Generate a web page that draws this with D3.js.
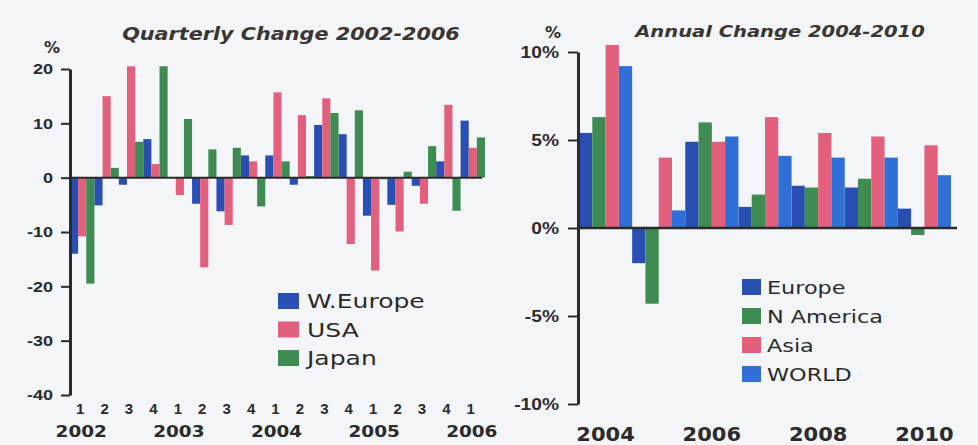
<!DOCTYPE html>
<html>
<head>
<meta charset="utf-8">
<script src="https://cdn.jsdelivr.net/npm/d3@7"></script>
<style>
    body { margin: 0; background: #f4f5f9; }
    svg { display: block; font-family: "DejaVu Sans", sans-serif; }
</style>
</head>
<body>
<div id="vis"></div>
<script>
// Constants
const FRAME_WIDTH = 978;
const FRAME_HEIGHT = 445;

// quarterly chart data (2002 Q1 - 2006 Q1)
const QUARTERS = ["1", "2", "3", "4", "1", "2", "3", "4", "1", "2", "3", "4", "1", "2", "3", "4", "1"];
const QUARTER_YEARS = ["2002", "2003", "2004", "2005", "2006"];
const Q_SERIES = ["W.Europe", "USA", "Japan"];
const W_EUROPE = [-14.0, -5.1, -1.3, 7.1, 0, -4.8, -6.2, 4.1, 4.1, -1.3, 9.7, 8.0, -7.0, -5.0, -1.5, 3.0, 10.5];
const USA = [-10.8, 15.0, 20.5, 2.5, -3.2, -16.5, -8.7, 3.0, 15.7, 11.5, 14.6, -12.2, -17.1, -9.9, -4.8, 13.4, 5.5];
const JAPAN = [-19.5, 1.8, 6.6, 20.5, 10.8, 5.2, 5.5, -5.3, 3.0, 0.3, 11.9, 12.4, -0.3, 1.1, 5.8, -6.1, 7.4];
const Q_TICKS = [20, 10, 0, -10, -20, -30, -40];

// annual chart data (2004 - 2010)
const YEARS = ["2004", "2005", "2006", "2007", "2008", "2009", "2010"];
const YEAR_LABELS = ["2004", "2006", "2008", "2010"];
const A_SERIES = ["Europe", "N America", "Asia", "WORLD"];
const EUROPE = [5.4, -2.0, 4.9, 1.2, 2.4, 2.3, 1.1];
const N_AMERICA = [6.3, -4.3, 6.0, 1.9, 2.3, 2.8, -0.4];
const ASIA = [10.4, 4.0, 4.9, 6.3, 5.4, 5.2, 4.7];
const WORLD = [9.2, 1.0, 5.2, 4.1, 4.0, 4.0, 3.0];
const A_TICKS = [10, 5, 0, -5, -10];

const BLUE = "#2a4fb3";
const PINK = "#e2607c";
const GREEN = "#3f8c52";
const LIGHT_BLUE = "#2f6fd6";
const INK = "#2b2b2b";

const FRAME = d3.select("#vis")
    .append("svg")
    .attr("width", FRAME_WIDTH)
    .attr("height", FRAME_HEIGHT);

// the scanned text is wider than the fonts we have, so stretch it a bit
function widen(sel, k) {
    sel.each(function () {
        const w = this.getComputedTextLength();
        d3.select(this)
            .attr("textLength", w * k)
            .attr("lengthAdjust", "spacingAndGlyphs");
    });
}

// style an axis group: thick domain line and ticks
function styleAxis(g, size) {
    g.select(".domain").attr("stroke", INK).attr("stroke-width", 3);
    g.selectAll(".tick line").attr("stroke", INK).attr("stroke-width", 2);
    g.selectAll(".tick text")
        .attr("fill", INK)
        .attr("font-weight", "bold")
        .attr("font-size", size + "px");
}

// ---------------- quarterly chart ----------------
function build_quarterly() {
    const X_SCALE = d3.scaleBand()
        .domain(d3.range(QUARTERS.length))
        .range([70, 485]);
    const SUB_SCALE = d3.scaleBand()
        .domain(Q_SERIES)
        .range([0, X_SCALE.bandwidth()]);
    const Y_SCALE = d3.scaleLinear()
        .domain([-40, 20])
        .range([395, 69]);
    const color = d3.scaleOrdinal().domain(Q_SERIES).range([BLUE, PINK, GREEN]);

    const rows = [];
    [W_EUROPE, USA, JAPAN].forEach((vals, s) => {
        vals.forEach((v, i) => rows.push({ q: i, series: Q_SERIES[s], value: v }));
    });

    FRAME.append("g").selectAll("rect")
        .data(rows)
        .enter()
        .append("rect")
        .attr("x", (d) => X_SCALE(d.q) + SUB_SCALE(d.series))
        .attr("y", (d) => Y_SCALE(Math.max(0, d.value)))
        .attr("width", SUB_SCALE.bandwidth())
        .attr("height", (d) => Math.abs(Y_SCALE(d.value) - Y_SCALE(0)))
        .attr("fill", (d) => color(d.series));

    // zero line
    FRAME.append("line")
        .attr("x1", 70).attr("x2", 482)
        .attr("y1", Y_SCALE(0)).attr("y2", Y_SCALE(0))
        .attr("stroke", INK).attr("stroke-width", 2);

    const yAxis = FRAME.append("g")
        .attr("transform", "translate(70,0)")
        .call(d3.axisLeft(Y_SCALE).tickValues(Q_TICKS).tickFormat((d) => String(d))
            .tickSize(9).tickSizeOuter(0).tickPadding(8));
    styleAxis(yAxis, 15);
    widen(yAxis.selectAll(".tick text"), 1.2);

    // quarter and year labels
    const xAxis = FRAME.append("g")
        .attr("transform", "translate(-2,403)")
        .call(d3.axisBottom(X_SCALE).tickFormat((d) => QUARTERS[d]).tickSize(0).tickPadding(0));
    xAxis.select(".domain").remove();
    xAxis.selectAll(".tick text")
        .attr("fill", INK).attr("font-weight", "bold").attr("font-size", "15px");

    FRAME.append("g").selectAll("text")
        .data(QUARTER_YEARS)
        .enter()
        .append("text")
        .attr("x", (d, i) => X_SCALE(i * 4) + X_SCALE.bandwidth() / 2 - 1)
        .attr("y", 437)
        .attr("text-anchor", "middle")
        .attr("font-weight", "bold")
        .attr("font-size", "16px")
        .attr("fill", INK)
        .text((d) => d)
        .call(widen, 1.15);

    FRAME.append("text")
        .attr("x", 52).attr("y", 53)
        .attr("text-anchor", "middle")
        .attr("font-weight", "bold").attr("font-size", "16px")
        .attr("fill", INK)
        .text("%");

    FRAME.append("text")
        .attr("x", 291).attr("y", 40)
        .attr("text-anchor", "middle")
        .attr("font-weight", "bold").attr("font-style", "italic")
        .attr("font-size", "17px")
        .attr("fill", "#3a3633")
        .text("Quarterly Change 2002-2006")
        .call(widen, 1.22);

    // legend
    const legend = FRAME.append("g").selectAll("g")
        .data(Q_SERIES)
        .enter()
        .append("g")
        .attr("transform", (d, i) => "translate(278," + (293 + i * 28.5) + ")");
    legend.append("rect")
        .attr("width", 21).attr("height", 16)
        .attr("fill", (d) => color(d));
    legend.append("text")
        .attr("x", 29).attr("y", 15)
        .attr("font-size", "20px")
        .attr("fill", INK)
        .text((d) => d)
        .call(widen, 1.25);
}

// ---------------- annual chart ----------------
function build_annual() {
    const X_SCALE = d3.scaleBand()
        .domain(YEARS)
        .range([579, 951]);
    const SUB_SCALE = d3.scaleBand()
        .domain(A_SERIES)
        .range([0, X_SCALE.bandwidth()]);
    const Y_SCALE = d3.scaleLinear()
        .domain([-10, 10])
        .range([404, 52]);
    const color = d3.scaleOrdinal().domain(A_SERIES).range([BLUE, GREEN, PINK, LIGHT_BLUE]);

    const rows = [];
    [EUROPE, N_AMERICA, ASIA, WORLD].forEach((vals, s) => {
        vals.forEach((v, i) => rows.push({ year: YEARS[i], series: A_SERIES[s], value: v }));
    });

    FRAME.append("g").selectAll("rect")
        .data(rows)
        .enter()
        .append("rect")
        .attr("x", (d) => X_SCALE(d.year) + SUB_SCALE(d.series))
        .attr("y", (d) => Y_SCALE(Math.max(0, d.value)))
        .attr("width", SUB_SCALE.bandwidth())
        .attr("height", (d) => Math.abs(Y_SCALE(d.value) - Y_SCALE(0)))
        .attr("fill", (d) => color(d.series));

    FRAME.append("line")
        .attr("x1", 578).attr("x2", 957)
        .attr("y1", Y_SCALE(0)).attr("y2", Y_SCALE(0))
        .attr("stroke", INK).attr("stroke-width", 2.5);

    const yAxis = FRAME.append("g")
        .attr("transform", "translate(578,0)")
        .call(d3.axisLeft(Y_SCALE).tickValues(A_TICKS).tickFormat((d) => d + "%")
            .tickSize(10).tickSizeOuter(0).tickPadding(9));
    styleAxis(yAxis, 16);
    widen(yAxis.selectAll(".tick text"), 1.2);

    FRAME.append("g").selectAll("text")
        .data(YEAR_LABELS)
        .enter()
        .append("text")
        .attr("x", (d) => X_SCALE(d) + X_SCALE.bandwidth() / 2)
        .attr("y", 441)
        .attr("text-anchor", "middle")
        .attr("font-weight", "bold")
        .attr("font-size", "20px")
        .attr("fill", INK)
        .text((d) => d)
        .call(widen, 1.05);

    FRAME.append("text")
        .attr("x", 553).attr("y", 38)
        .attr("text-anchor", "middle")
        .attr("font-weight", "bold").attr("font-size", "16px")
        .attr("fill", INK)
        .text("%");

    FRAME.append("text")
        .attr("x", 780).attr("y", 37)
        .attr("text-anchor", "middle")
        .attr("font-weight", "bold").attr("font-style", "italic")
        .attr("font-size", "16px")
        .attr("fill", "#3a3633")
        .text("Annual Change 2004-2010")
        .call(widen, 1.22);

    const legend = FRAME.append("g").selectAll("g")
        .data(A_SERIES)
        .enter()
        .append("g")
        .attr("transform", (d, i) => "translate(742," + (279 + i * 29) + ")");
    legend.append("rect")
        .attr("width", 19).attr("height", 16)
        .attr("fill", (d) => color(d));
    legend.append("text")
        .attr("x", 25).attr("y", 15)
        .attr("font-size", "18px")
        .attr("fill", INK)
        .text((d) => d)
        .call(widen, 1.24);
}

build_quarterly();
build_annual();
</script>
</body>
</html>
